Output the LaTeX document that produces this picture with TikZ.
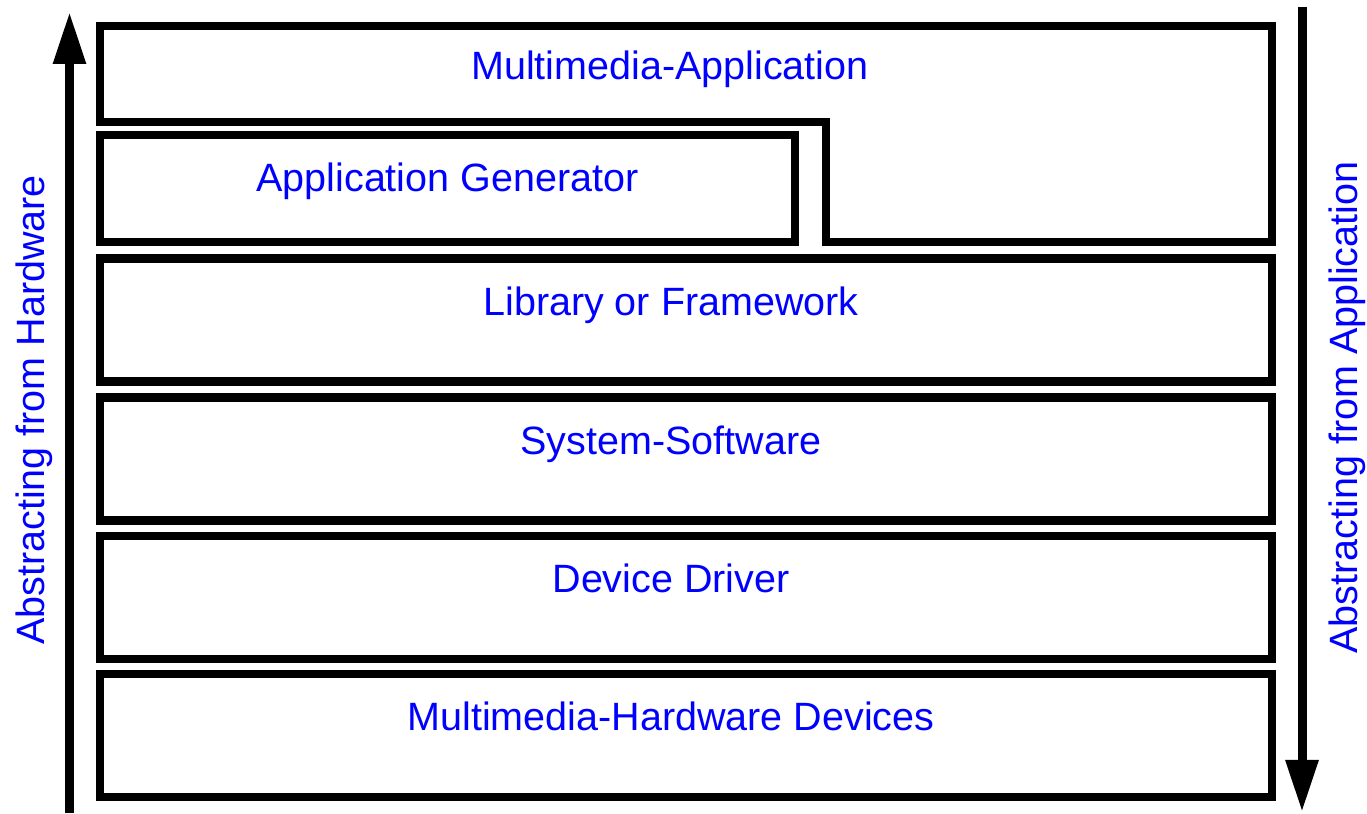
\documentclass[tikz,border=0pt]{standalone}
\usepackage{fontspec}
\setmainfont{Liberation Sans}
\usepackage{tikz}
\usetikzlibrary{arrows.meta, positioning}

\begin{document}
\begin{tikzpicture}[
  x=0.5pt, y=0.5pt,
  layer/.style={draw=black, line width=4.25pt, line join=miter},
  lbl/.style={text=blue, inner sep=0pt, anchor=base,
              font=\fontsize{19.75}{24}\selectfont},
  arr/.style={-{Triangle[length=26pt, width=15.5pt]}, line width=4.5pt}
]
  \useasboundingbox (0,0) rectangle (1367,814);

  % top layer (L-shaped) and the generator beside it
  \draw[layer] (100,788) -- (1272,788) -- (1272,572) -- (826,572)
    -- (826,692) -- (100,692) -- cycle;
  \draw[layer] (100,679) rectangle (795,572);
  \node[lbl] (mmapp) at (670,734) {Multimedia-Application};
  \node[lbl] (appgen) at (447.5,622) {Application Generator};

  % lower layers
  \foreach \top/\name/\txt in {258.5/lib/Library or Framework,
      397.5/sys/System-Software, 536/dev/Device Driver,
      674/hw/Multimedia-Hardware Devices} {
    \draw[layer] (100,{814-\top}) rectangle (1272,{691-\top});
    \node[lbl] (\name) at (671,{814-\top-57}) {\txt};
  }

  % side arrows
  \coordinate (hwbot) at (69.5,1);
  \coordinate (hwtop) at (69.5,802);
  \coordinate (apptop) at (1302,807);
  \coordinate (appbot) at (1302,2);
  \draw[arr] (hwbot) -- (hwtop);
  \draw[arr] (apptop) -- (appbot);
  \node[lbl, rotate=90] (fromhw) at (44,404) {Abstracting from Hardware};
  \node[lbl, rotate=90] (fromapp) at (1357,406.5) {Abstracting from Application};
\end{tikzpicture}
\end{document}
